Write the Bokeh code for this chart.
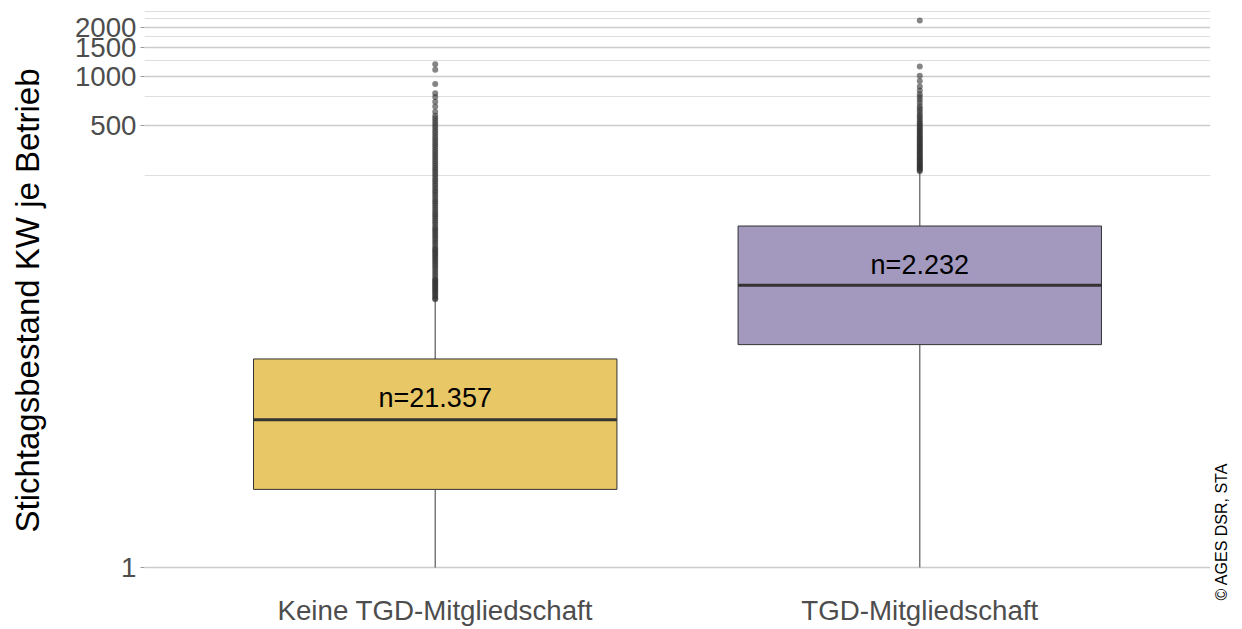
import math
from bokeh.plotting import figure
from bokeh.models import (FactorRange, Range1d, FixedTicker, NumeralTickFormatter,
                          ColumnDataSource, LinearAxis)
from bokeh.core.properties import value
from bokeh.embed import file_html
from bokeh.resources import INLINE

# ---- data ----
categories = ["Keine TGD-Mitgliedschaft", "TGD-Mitgliedschaft"]
fill_colors = ["#E8C766", "#A399BE"]
whisker_low = [1, 1]
q1 = [3.0, 23.0]
median = [8.0, 53.0]
q3 = [18.8, 122.0]
whisker_high = [43.0, 263.0]
n_labels = ["n=21.357", "n=2.232"]
label_y = [10.8, 70.7]

outliers_keine = [43.5, 44, 45, 46, 47, 48, 49, 50, 51, 52, 53, 54, 55, 56, 57, 58,
                  60, 62, 64, 66, 68, 70, 72, 74, 76, 78, 80, 82, 84, 86, 88, 90,
                  93, 96, 99, 102, 105, 108, 111, 114, 117, 120, 124, 128, 132, 136,
                  140, 144, 148, 153, 158, 163, 168, 173, 178, 184, 190, 196, 202,
                  208, 215, 222, 229, 236, 244, 252, 260, 268, 276, 285, 294, 303,
                  313, 323, 334, 345, 356, 368, 380, 393, 406, 420, 435, 450, 466,
                  482, 500, 518, 537, 556, 575, 610, 655, 700, 750, 790, 900, 1100,
                  1190]
outliers_tgd = [264, 268, 272, 276, 280, 284, 288, 292, 297, 302, 307, 312, 317,
                322, 328, 334, 340, 346, 352, 358, 365, 372, 379, 386, 393, 400,
                408, 416, 424, 432, 441, 450, 459, 468, 478, 488, 498, 510, 522,
                535, 550, 565, 580, 600, 620, 640, 660, 690, 720, 750, 780, 820,
                870, 940, 1010, 1150, 2200]

y_major = [1, 500, 1000, 1500, 2000]
y_minor = [250, 750, 1250, 1750, 2250, 2500]
caption = "\u00a9 AGES DSR, STA"

FONT = "Liberation Sans"

p = figure(frame_width=1066, frame_height=600, output_backend="svg",
           toolbar_location=None,
           x_range=FactorRange(factors=categories, range_padding=0.1),
           y_range=Range1d(0.6285, 2913), y_axis_type="log",
           min_border_left=144, min_border_right=30, min_border_top=0,
           min_border_bottom=0)
p.outline_line_color = None
p.background_fill_color = "white"

# grid
ticker = FixedTicker(ticks=y_major, minor_ticks=y_minor)
p.yaxis.ticker = ticker
p.ygrid.ticker = ticker
p.ygrid.grid_line_color = "#CCCCCC"
p.ygrid.grid_line_width = 1.4
p.ygrid.minor_grid_line_color = "#DEDEDE"
p.ygrid.minor_grid_line_width = 1
p.xgrid.grid_line_color = None

# axes
p.yaxis.formatter = NumeralTickFormatter(format="0")
p.yaxis.axis_line_color = None
p.yaxis.major_tick_line_color = "#999999"
p.yaxis.major_tick_out = 4
p.yaxis.major_tick_in = 0
p.yaxis.minor_tick_line_color = None
p.yaxis.major_label_standoff = 4
p.yaxis.major_label_text_font = FONT
p.yaxis.major_label_text_font_size = "27.7px"
p.yaxis.major_label_text_color = "#4D4D4D"
p.yaxis.axis_label = "Stichtagsbestand KW je Betrieb"
p.yaxis.axis_label_text_font = FONT
p.yaxis.axis_label_text_font_size = "33px"
p.yaxis.axis_label_text_font_style = "normal"
p.yaxis.axis_label_text_color = "black"
p.yaxis.axis_label_standoff = 26

p.xaxis.axis_line_color = None
p.xaxis.major_tick_line_color = None
p.xaxis.minor_tick_line_color = None
p.xaxis.major_label_standoff = -12
p.xaxis.major_label_text_font = FONT
p.xaxis.major_label_text_font_size = "27.7px"
p.xaxis.major_label_text_color = "#4D4D4D"

# caption as label of an empty right axis
cap_axis = LinearAxis(ticker=FixedTicker(ticks=[]), axis_line_color=None,
                      major_tick_line_color=None, minor_tick_line_color=None,
                      major_tick_out=0, major_tick_in=0, minor_tick_out=0,
                      major_label_standoff=0,
                      axis_label=caption, axis_label_standoff=11,
                      axis_label_orientation=math.pi / 2,
                      axis_label_align="start",
                      axis_label_text_font=FONT,
                      axis_label_text_font_size="16px",
                      axis_label_text_font_style="normal",
                      axis_label_text_color="black")
p.add_layout(cap_axis, "right")

# whiskers
p.segment(x0=categories, y0=whisker_low, x1=categories, y1=q1,
          line_color="#666666", line_width=1.3)
p.segment(x0=categories, y0=q3, x1=categories, y1=whisker_high,
          line_color="#666666", line_width=1.3)

# outliers
ox = [categories[0]] * len(outliers_keine) + [categories[1]] * len(outliers_tgd)
oy = outliers_keine + outliers_tgd
p.scatter(x=ox, y=oy, size=6, fill_color="#333333", fill_alpha=0.6,
          line_color=None)

# boxes
src = ColumnDataSource(dict(cat=categories, q1=q1, q3=q3, fill=fill_colors))
p.vbar(x="cat", width=0.75, bottom="q1", top="q3", fill_color="fill",
       line_color="#333333", line_width=1, source=src)

# medians
p.segment(x0=[(c, -0.375) for c in categories], y0=median,
          x1=[(c, 0.375) for c in categories], y1=median,
          line_color="#333333", line_width=3)

# n labels
p.text(x=categories, y=label_y, text=n_labels, text_align="center",
       text_baseline="middle", text_font=value(FONT), text_font_size="27px",
       text_color="black")

open("out.html", "w").write(file_html(p, INLINE))
